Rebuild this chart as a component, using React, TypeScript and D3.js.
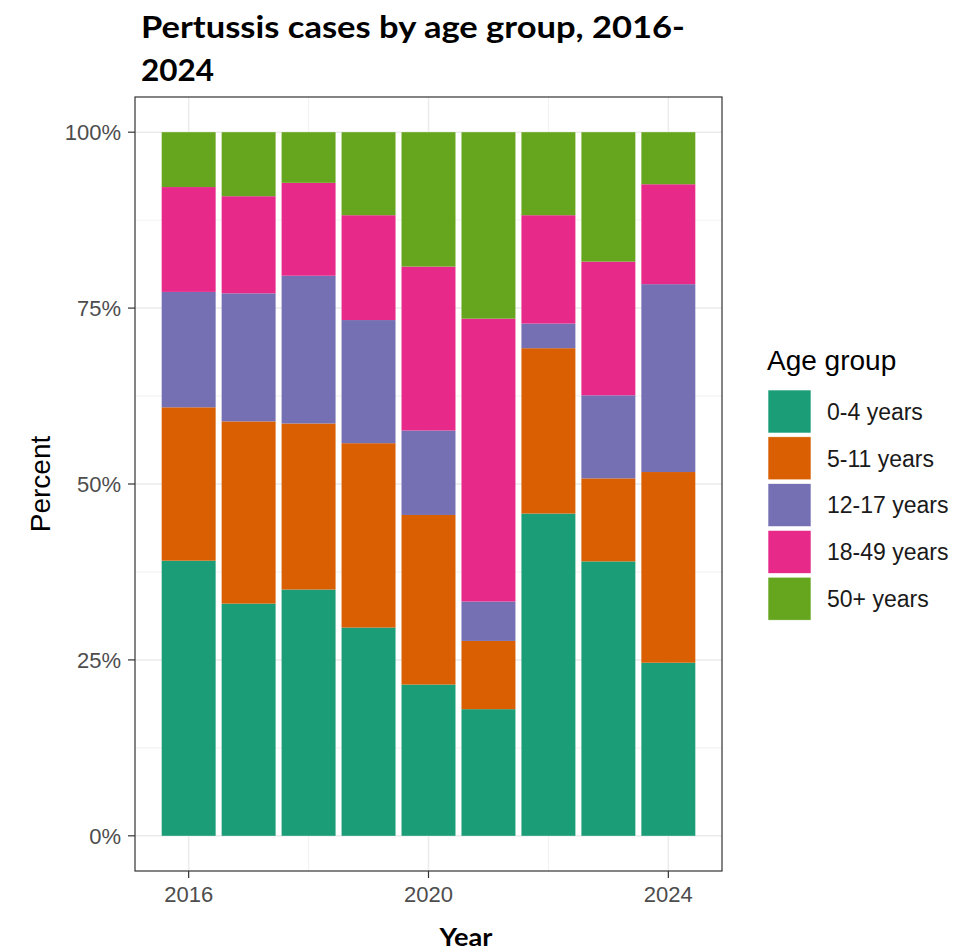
import React, { useRef, useEffect } from "react";
import * as d3 from "d3";

const years = [2016, 2017, 2018, 2019, 2020, 2021, 2022, 2023, 2024];
const ageGroups = ["0-4 years", "5-11 years", "12-17 years", "18-49 years", "50+ years"];
const colors = ["#1B9E77", "#D95F02", "#7570B3", "#E7298A", "#66A61E"];

// share of cases (%) per year, one array per age group
const age0to4 = [39.1, 33.0, 35.0, 29.6, 21.5, 18.0, 45.8, 39.0, 24.6];
const age5to11 = [21.8, 25.9, 23.6, 26.2, 24.1, 9.7, 23.5, 11.8, 27.1];
const age12to17 = [16.4, 18.2, 21.0, 17.5, 12.0, 5.6, 3.5, 11.8, 26.7];
const age18to49 = [14.9, 13.8, 13.2, 14.9, 23.3, 40.2, 15.4, 19.0, 14.2];
const age50plus = [7.8, 9.1, 7.2, 11.8, 19.1, 26.5, 11.8, 18.4, 7.4];

const yTicks = [0, 0.25, 0.5, 0.75, 1];
const yMinor = [0.125, 0.375, 0.625, 0.875];
const xTicks = [2016, 2020, 2024];
const xMinor = [2018, 2022];

export default function App() {
  const svgRef = useRef<SVGSVGElement>(null);

  useEffect(() => {
    const svg = d3.select(svgRef.current);
    svg.selectAll("*").remove();

    const left = 135, right = 722, top = 97, bottom = 871;
    const axisFont = "'Liberation Sans', Arial, sans-serif";
    const titleFont = "Lato, 'Open Sans', sans-serif";

    const table = years.map((yr, i) => {
      const vals = [age0to4[i], age5to11[i], age12to17[i], age18to49[i], age50plus[i]];
      const tot = d3.sum(vals);
      const row: any = { year: yr };
      ageGroups.forEach((g, j) => (row[g] = vals[j] / tot));
      return row;
    });

    const x = d3.scaleLinear().domain([2015.105, 2024.895]).range([left, right]);
    const y = d3.scaleLinear().domain([-0.05, 1.05]).range([bottom, top]);

    // panel grid
    const grid = svg.append("g").attr("stroke", "#EBEBEB");
    yMinor.forEach(v =>
      grid.append("line").attr("x1", left).attr("x2", right).attr("y1", y(v)).attr("y2", y(v))
        .attr("stroke-width", 0.7));
    xMinor.forEach(v =>
      grid.append("line").attr("y1", top).attr("y2", bottom).attr("x1", x(v)).attr("x2", x(v))
        .attr("stroke-width", 0.7));
    yTicks.forEach(v =>
      grid.append("line").attr("x1", left).attr("x2", right).attr("y1", y(v)).attr("y2", y(v))
        .attr("stroke-width", 1.5));
    xTicks.forEach(v =>
      grid.append("line").attr("y1", top).attr("y2", bottom).attr("x1", x(v)).attr("x2", x(v))
        .attr("stroke-width", 1.5));

    // stacked bars, first group at the bottom
    const series = d3.stack<any>().keys(ageGroups)(table);
    const bw = x(2016.45) - x(2015.55);

    svg.append("g").selectAll("g")
      .data(series)
      .enter().append("g")
      .attr("fill", (d, i) => colors[i])
      .selectAll("rect")
      .data(d => d)
      .enter().append("rect")
      .attr("x", d => x(d.data.year) - bw / 2)
      .attr("width", bw)
      .attr("y", d => y(d[1]))
      .attr("height", d => y(d[0]) - y(d[1]));

    // panel border
    svg.append("rect").attr("x", left).attr("y", top).attr("width", right - left).attr("height", bottom - top)
      .attr("fill", "none").attr("stroke", "#333333").attr("stroke-width", 1.2);

    // y axis
    yTicks.forEach(v => {
      svg.append("line").attr("x1", left - 7).attr("x2", left).attr("y1", y(v)).attr("y2", y(v))
        .attr("stroke", "#333333").attr("stroke-width", 1.2);
      svg.append("text").attr("x", left - 14).attr("y", y(v)).attr("dy", "0.36em")
        .attr("text-anchor", "end").attr("font-family", axisFont).attr("font-size", 22)
        .attr("fill", "#4D4D4D").text(d3.format(".0%")(v));
    });
    svg.append("text")
      .attr("transform", `translate(50,${(top + bottom) / 2}) rotate(-90)`)
      .attr("text-anchor", "middle").attr("font-family", axisFont).attr("font-size", 28)
      .attr("fill", "#000").text("Percent");

    // x axis
    xTicks.forEach(v => {
      svg.append("line").attr("y1", bottom).attr("y2", bottom + 7).attr("x1", x(v)).attr("x2", x(v))
        .attr("stroke", "#333333").attr("stroke-width", 1.2);
      svg.append("text").attr("x", x(v)).attr("y", bottom + 31)
        .attr("text-anchor", "middle").attr("font-family", axisFont).attr("font-size", 22)
        .attr("fill", "#4D4D4D").text(v);
    });
    svg.append("text").attr("x", 466).attr("y", 946)
      .attr("text-anchor", "middle").attr("font-family", titleFont).attr("font-weight", "bold")
      .attr("font-size", 24).attr("textLength", 53).attr("lengthAdjust", "spacingAndGlyphs")
      .attr("fill", "#000").text("Year");

    // title
    svg.append("text").attr("x", 141).attr("y", 38)
      .attr("font-family", titleFont).attr("font-weight", "bold").attr("font-size", 30)
      .attr("textLength", 544).attr("lengthAdjust", "spacingAndGlyphs")
      .attr("fill", "#000").text("Pertussis cases by age group, 2016-");
    svg.append("text").attr("x", 141).attr("y", 81)
      .attr("font-family", titleFont).attr("font-weight", "bold").attr("font-size", 30)
      .attr("textLength", 73).attr("lengthAdjust", "spacingAndGlyphs")
      .attr("fill", "#000").text("2024");

    // legend
    const lg = svg.append("g").attr("transform", "translate(767,0)");
    lg.append("text").attr("x", 0).attr("y", 370)
      .attr("font-family", axisFont).attr("font-size", 28).attr("fill", "#000").text("Age group");
    ageGroups.forEach((g, i) => {
      const ky = 390 + i * 46.8;
      lg.append("rect").attr("x", 1).attr("y", ky).attr("width", 43).attr("height", 43)
        .attr("fill", colors[i]).attr("stroke", "#fff").attr("stroke-width", 0.6);
      lg.append("text").attr("x", 60).attr("y", ky + 21.5).attr("dy", "0.36em")
        .attr("font-family", axisFont).attr("font-size", 23).attr("fill", "#1A1A1A").text(g);
    });
  }, []);

  return (
    <svg ref={svgRef} width={977} height={950}
      style={{ position: "absolute", left: 0, top: 0, background: "#fff" }} />
  );
}
